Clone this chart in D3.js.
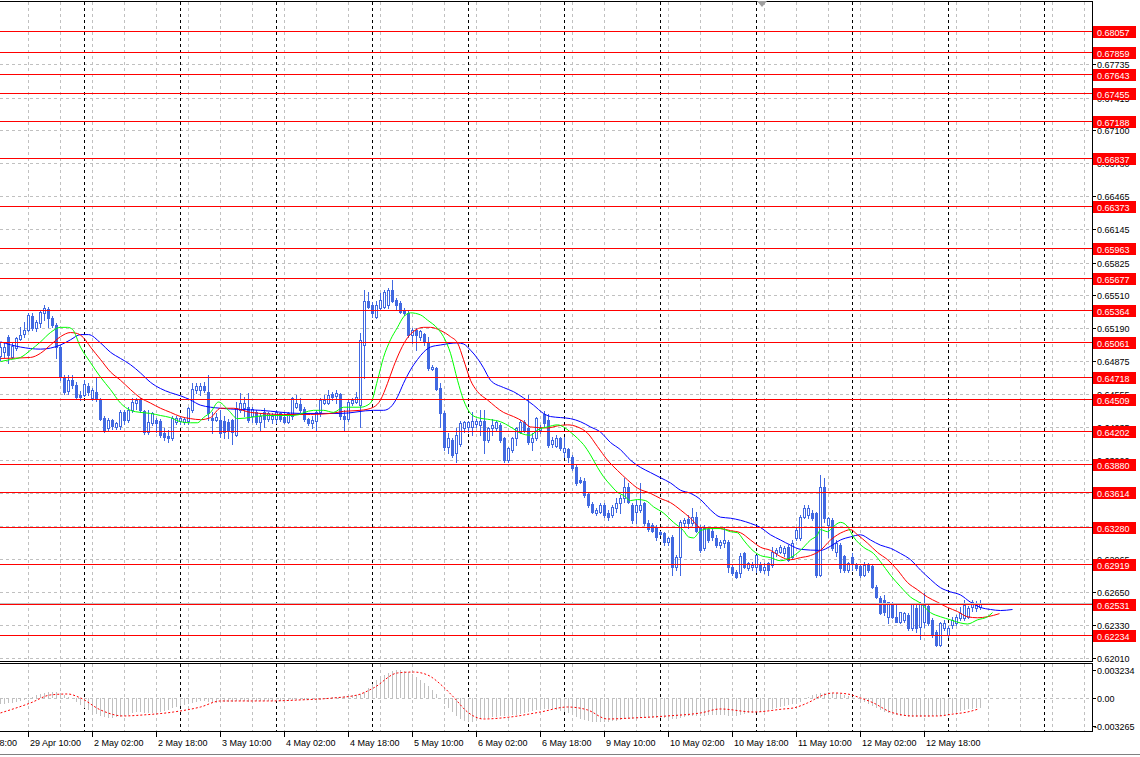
<!DOCTYPE html>
<html><head><meta charset="utf-8">
<script src="https://cdn.jsdelivr.net/npm/d3@7"></script>
<style>
html,body{margin:0;padding:0;background:#fff;overflow:hidden;}
svg{display:block;}
text{font-family:"Liberation Sans",Arial,sans-serif;font-size:9px;}
</style></head>
<body><svg id="c" width="1140" height="757"></svg>
<script>
// ---------------- DATA ----------------
const opens=[.6492,.6496,.6511,.6491,.6500,.6509,.6514,.6517,.6531,.6519,
.6524,.6534,.6538,.6529,.6522,.6501,.6472,.6459,.6469,.6464,
.6455,.6455,.6463,.6452,.6458,.6451,.6433,.6423,.6431,.6424,
.6425,.6438,.6431,.6440,.6447,.6450,.6439,.6419,.6428,.6431,
.6430,.6418,.6415,.6413,.6429,.6430,.6429,.6430,.6440,.6460,
.6460,.6463,.6458,.6433,.6431,.6431,.6430,.6429,.6431,.6416,
.6440,.6442,.6443,.6435,.6438,.6429,.6438,.6432,.6432,.6432,
.6437,.6434,.6429,.6435,.6443,.6446,.6441,.6432,.6428,.6430,
.6438,.6447,.6447,.6456,.6454,.6456,.6435,.6432,.6447,.6448,
.6445,.6503,.6545,.6542,.6530,.6539,.6540,.6542,.6556,.6546,
.6543,.6537,.6534,.6513,.6517,.6511,.6514,.6506,.6480,.6481,
.6462,.6437,.6405,.6411,.6399,.6408,.6423,.6424,.6424,.6427,
.6426,.6430,.6411,.6423,.6423,.6426,.6413,.6392,.6402,.6413,
.6419,.6429,.6423,.6409,.6413,.6421,.6436,.6431,.6408,.6406,
.6413,.6400,.6403,.6395,.6385,.6373,.6372,.6359,.6350,.6341,
.6342,.6349,.6341,.6339,.6346,.6351,.6355,.6366,.6349,.6342,
.6344,.6351,.6331,.6329,.6327,.6323,.6322,.6313,.6318,.6289,
.6299,.6331,.6335,.6331,.6337,.6327,.6307,.6326,.6324,.6317,
.6310,.6312,.6313,.6289,.6284,.6283,.6302,.6288,.6289,.6289,
.6291,.6286,.6293,.6291,.6302,.6303,.6302,.6308,.6299,.6317,
.6317,.6337,.6339,.6341,.6341,.6281,.6366,.6329,.6334,.6303,
.6310,.6300,.6286,.6299,.6291,.6290,.6281,.6291,.6290,.6270,
.6259,.6257,.6241,.6254,.6241,.6236,.6238,.6243,.6230,.6249,
.6231,.6236,.6251,.6238,.6226,.6214,.6230,.6223,.6233,.6235,
.6240,.6240,.6241,.6250,.6249,.6250];
const highs=[.6505,.6506,.6513,.6506,.6511,.6520,.6525,.6534,.6534,.6527,
.6537,.6542,.6540,.6531,.6524,.6503,.6474,.6474,.6474,.6467,
.6459,.6469,.6466,.6462,.6472,.6452,.6435,.6433,.6432,.6429,
.6440,.6440,.6443,.6452,.6452,.6452,.6440,.6440,.6438,.6433,
.6432,.6423,.6421,.6435,.6435,.6435,.6433,.6443,.6466,.6466,
.6466,.6467,.6474,.6438,.6437,.6440,.6435,.6432,.6432,.6448,
.6457,.6453,.6457,.6443,.6440,.6437,.6442,.6438,.6437,.6440,
.6438,.6437,.6438,.6453,.6455,.6452,.6443,.6433,.6435,.6440,
.6452,.6455,.6460,.6458,.6460,.6457,.6440,.6450,.6452,.6458,
.6515,.6556,.6554,.6544,.6545,.6553,.6556,.6558,.6566,.6548,
.6545,.6539,.6536,.6519,.6519,.6517,.6515,.6511,.6484,.6482,
.6466,.6439,.6418,.6413,.6423,.6430,.6430,.6430,.6438,.6432,
.6440,.6440,.6424,.6432,.6430,.6428,.6414,.6405,.6414,.6424,
.6431,.6431,.6455,.6418,.6434,.6426,.6439,.6436,.6414,.6416,
.6414,.6414,.6404,.6397,.6387,.6376,.6375,.6361,.6352,.6346,
.6351,.6351,.6344,.6349,.6355,.6358,.6375,.6370,.6351,.6354,
.6370,.6352,.6334,.6331,.6329,.6324,.6323,.6318,.6320,.6301,
.6334,.6336,.6339,.6346,.6342,.6329,.6329,.6327,.6327,.6320,
.6315,.6327,.6315,.6291,.6286,.6302,.6303,.6294,.6294,.6301,
.6294,.6293,.6294,.6308,.6307,.6310,.6309,.6310,.6315,.6327,
.6339,.6349,.6349,.6344,.6342,.6378,.6375,.6337,.6336,.6315,
.6312,.6301,.6294,.6302,.6293,.6291,.6294,.6293,.6291,.6272,
.6261,.6262,.6255,.6255,.6254,.6246,.6246,.6245,.6254,.6254,
.6255,.6264,.6252,.6240,.6228,.6236,.6238,.6232,.6241,.6243,
.6250,.6257,.6251,.6257,.6256,.6257];
const lows=[.6489,.6491,.6486,.6490,.6498,.6508,.6511,.6516,.6517,.6516,
.6520,.6527,.6520,.6520,.6490,.6469,.6456,.6456,.6462,.6451,
.6450,.6454,.6455,.6450,.6449,.6431,.6419,.6420,.6422,.6422,
.6422,.6427,.6429,.6438,.6441,.6438,.6417,.6417,.6426,.6419,
.6414,.6411,.6409,.6411,.6427,.6427,.6427,.6427,.6438,.6457,
.6455,.6458,.6431,.6418,.6430,.6414,.6413,.6413,.6408,.6415,
.6438,.6435,.6429,.6429,.6427,.6421,.6424,.6430,.6428,.6428,
.6430,.6428,.6428,.6432,.6442,.6438,.6430,.6426,.6423,.6421,
.6435,.6446,.6446,.6450,.6447,.6432,.6421,.6430,.6445,.6447,
.6424,.6471,.6539,.6530,.6529,.6537,.6539,.6539,.6544,.6537,
.6534,.6532,.6511,.6505,.6498,.6508,.6503,.6479,.6479,.6460,
.6424,.6402,.6399,.6395,.6390,.6406,.6419,.6419,.6416,.6424,
.6416,.6399,.6409,.6416,.6421,.6409,.6390,.6390,.6400,.6407,
.6418,.6419,.6408,.6402,.6411,.6418,.6424,.6405,.6405,.6405,
.6402,.6395,.6390,.6382,.6368,.6370,.6356,.6347,.6341,.6339,
.6341,.6337,.6334,.6337,.6342,.6341,.6352,.6351,.6331,.6331,
.6342,.6329,.6324,.6323,.6315,.6320,.6310,.6310,.6281,.6286,
.6281,.6328,.6327,.6329,.6323,.6303,.6305,.6313,.6315,.6308,
.6307,.6308,.6284,.6281,.6278,.6279,.6288,.6286,.6286,.6284,
.6284,.6283,.6281,.6289,.6300,.6302,.6300,.6295,.6298,.6315,
.6315,.6336,.6336,.6334,.6279,.6280,.6332,.6318,.6305,.6300,
.6284,.6284,.6284,.6286,.6286,.6279,.6280,.6284,.6269,.6259,
.6244,.6243,.6235,.6240,.6236,.6235,.6236,.6228,.6228,.6226,
.6220,.6231,.6233,.6221,.6213,.6213,.6228,.6221,.6230,.6233,
.6238,.6238,.6240,.6247,.6247,.6248];
const closes=[.6501,.6501,.6493,.6502,.6510,.6513,.6517,.6532,.6519,.6525,
.6535,.6539,.6529,.6522,.6501,.6472,.6458,.6469,.6464,.6453,
.6453,.6465,.6458,.6460,.6451,.6432,.6421,.6431,.6425,.6428,
.6438,.6431,.6440,.6448,.6450,.6440,.6419,.6429,.6437,.6428,
.6416,.6414,.6413,.6433,.6433,.6433,.6432,.6442,.6461,.6463,
.6463,.6460,.6437,.6431,.6434,.6418,.6419,.6420,.6419,.6442,
.6447,.6447,.6431,.6441,.6429,.6435,.6432,.6437,.6435,.6438,
.6432,.6429,.6437,.6452,.6447,.6440,.6432,.6428,.6431,.6438,
.6450,.6450,.6455,.6453,.6457,.6435,.6432,.6448,.6450,.6453,
.6508,.6545,.6540,.6534,.6542,.6546,.6554,.6556,.6545,.6542,
.6535,.6534,.6513,.6517,.6513,.6516,.6506,.6481,.6482,.6461,
.6437,.6405,.6413,.6397,.6416,.6428,.6429,.6429,.6430,.6430,
.6430,.6411,.6423,.6426,.6429,.6411,.6392,.6404,.6413,.6423,
.6429,.6421,.6409,.6413,.6433,.6423,.6428,.6407,.6411,.6413,
.6404,.6404,.6395,.6384,.6370,.6371,.6358,.6349,.6342,.6344,
.6349,.6339,.6337,.6347,.6351,.6355,.6366,.6352,.6334,.6349,
.6349,.6331,.6326,.6324,.6318,.6321,.6313,.6317,.6289,.6299,
.6332,.6334,.6331,.6337,.6324,.6305,.6327,.6315,.6318,.6310,
.6313,.6315,.6289,.6283,.6279,.6300,.6289,.6293,.6291,.6301,
.6286,.6289,.6286,.6303,.6305,.6308,.6307,.6296,.6312,.6325,
.6337,.6346,.6346,.6336,.6281,.6366,.6336,.6336,.6307,.6312,
.6288,.6286,.6293,.6293,.6288,.6281,.6291,.6286,.6270,.6260,
.6245,.6246,.6255,.6241,.6236,.6246,.6245,.6230,.6254,.6230,
.6254,.6252,.6235,.6223,.6214,.6235,.6235,.6230,.6238,.6241,
.6245,.6252,.6249,.6255,.6254,.6253];

// Alligator lines: [bar, price]
const lipsLine=[[0,.6487],[2.5,.6489],[5,.6491],[7.5,.6498],[10,.6506],[12.5,.6515],[15,.6520],[16.75,.6520],[18,.6518],[20,.6501],[22.5,.6486],[25,.6472],[27.5,.6460],[30,.6447],[32.5,.6440],[35,.6438],[37.5,.6437],[40,.6435],[42.5,.6433],[45,.6429],[47.5,.6428],[49.25,.6428],[50.75,.6433],[52.5,.6438],[54.5,.6448],[57,.6440],[59.25,.6432],[66.75,.6435],[73.25,.6435],[78.25,.6440],[80.75,.6440],[83.25,.6438],[85.75,.6443],[90,.6443],[92.5,.6447],[94.25,.6469],[95.75,.6491],[97.5,.6508],[99.25,.6520],[100.75,.6530],[102.5,.6534],[105,.6532],[106.75,.6527],[109.25,.6519],[110.75,.6511],[112.5,.6495],[114.25,.6469],[115.75,.6450],[117.5,.6437],[119.25,.6433],[122.5,.6431],[125,.6429],[127.5,.6424],[130,.6418],[132.5,.6416],[134.25,.6421],[136.75,.6424],[139.25,.6426],[140.75,.6424],[142.5,.6419],[144.25,.6413],[145.75,.6407],[147.5,.6397],[149.25,.6385],[150.75,.6376],[152.5,.6368],[154.25,.6361],[155.75,.6358],[157.5,.6353],[159.25,.6354],[161.25,.6353],[163.25,.6347],[165.75,.6341],[168.25,.6332],[170.75,.6324],[172,.6318],[173.25,.6317],[175,.6324],[177.5,.6326],[180,.6326],[182.5,.6323],[184.25,.6322],[185.75,.6315],[187.5,.6307],[190,.6300],[192.5,.6298],[195,.6295],[197.5,.6298],[200,.6305],[202.5,.6315],[204.25,.6320],[205,.6325],[206.75,.6323],[208.25,.6328],[210,.6332],[211.75,.6328],[213.25,.6318],[215.75,.6308],[218.25,.6302],[220,.6294],[222.5,.6281],[225,.6270],[227.5,.6260],[230,.6254],[232.5,.6245],[235,.6241],[237.5,.6238],[240,.6235],[241.75,.6234],[244.25,.6238],[246.75,.6241],[248,.6245]];
const teethLine=[[0,.6490],[7.5,.6491],[10,.6495],[12.5,.6503],[15,.6511],[17.5,.6515],[19.25,.6514],[20.75,.6510],[22.5,.6501],[25,.6489],[27.5,.6477],[30,.6469],[32.5,.6460],[35,.6452],[37.5,.6447],[40,.6442],[42.5,.6438],[45,.6434],[47.5,.6432],[50,.6431],[52.5,.6433],[55,.6442],[58.25,.6442],[62.5,.6438],[70.75,.6436],[77.5,.6436],[82.5,.6437],[85.75,.6439],[90,.6440],[93.25,.6443],[95,.6450],[96.75,.6466],[98.25,.6482],[100,.6498],[101.75,.6510],[103.25,.6516],[105.75,.6520],[107.5,.6520],[110,.6517],[112.5,.6511],[114.25,.6505],[115.75,.6489],[117.5,.6469],[119.25,.6458],[121.75,.6450],[125.75,.6438],[128.25,.6434],[130.75,.6429],[132.5,.6424],[136.75,.6423],[139.25,.6425],[141.75,.6426],[144.25,.6424],[146.75,.6418],[149.25,.6405],[151.75,.6392],[154.25,.6382],[156.75,.6373],[159.25,.6365],[162.5,.6360],[165,.6355],[167.5,.6351],[170,.6344],[172.5,.6336],[175,.6327],[180,.6326],[182.5,.6324],[185,.6322],[187.5,.6315],[190,.6308],[192.5,.6305],[195,.6299],[197.5,.6296],[200,.6298],[202.5,.6300],[205,.6305],[207.5,.6315],[209.25,.6320],[210.75,.6323],[212.5,.6325],[214.25,.6320],[216.75,.6312],[219.25,.6303],[221.75,.6296],[224.25,.6286],[226.75,.6274],[229.25,.6267],[231.75,.6260],[234.25,.6255],[236.75,.6250],[239.25,.6246],[241.75,.6241],[244.25,.6240],[246.75,.6241],[249.75,.6244]];
const jawLine=[[0,.6506],[5,.6501],[10,.6499],[15,.6503],[17.5,.6508],[20,.6513],[22,.6513],[25,.6505],[27.5,.6496],[30,.6490],[32.5,.6484],[35,.6476],[37.5,.6467],[40,.6461],[42.5,.6457],[45,.6454],[47.5,.6450],[50,.6445],[55,.6442],[65,.6440],[75,.6437],[85,.6437],[93.25,.6440],[95.75,.6440],[97.5,.6443],[99.25,.6453],[100.75,.6466],[102.5,.6479],[104.25,.6489],[105.75,.6496],[107.5,.6501],[110,.6503],[114.25,.6505],[115.75,.6504],[117.5,.6498],[119.25,.6490],[120.75,.6481],[122.5,.6469],[125.75,.6462],[128.25,.6458],[130.75,.6452],[133.25,.6445],[135.75,.6437],[137.5,.6434],[140,.6433],[142.5,.6432],[145,.6429],[147.5,.6424],[150,.6419],[152.5,.6409],[155,.6402],[157.5,.6392],[160,.6385],[162.5,.6380],[165,.6375],[167.5,.6370],[170,.6363],[172.5,.6360],[175,.6354],[177.5,.6344],[180,.6337],[182.5,.6336],[185,.6334],[187.5,.6331],[190,.6327],[192.5,.6320],[195,.6315],[197.5,.6310],[200,.6306],[205,.6305],[207.5,.6309],[210,.6315],[212.5,.6318],[215,.6320],[217.5,.6315],[220,.6310],[222.5,.6307],[225,.6302],[227.5,.6296],[230,.6286],[232.5,.6277],[235,.6269],[237.5,.6265],[240,.6262],[242.5,.6255],[245,.6250],[247.5,.6248],[250,.6247],[253,.6248]];

// MACD histogram (one value per bar) and signal line [bar, value]
const macdHist=[-.00071,-.00071,-.00059,-.00059,-.00048,-.00036,-.00024,-.00013,.00010,.00034,
.00045,.00057,.00068,.00068,.00068,.00057,.00034,.00010,-.00013,-.00048,
-.00082,-.00117,-.00140,-.00164,-.00187,-.00210,-.00222,-.00233,-.00233,-.00222,
-.00222,-.00210,-.00198,-.00175,-.00164,-.00164,-.00175,-.00175,-.00175,-.00175,
-.00164,-.00152,-.00140,-.00117,-.00106,-.00094,-.00082,-.00071,-.00059,-.00048,
-.00036,-.00036,-.00048,-.00048,-.00059,-.00059,-.00048,-.00048,-.00048,-.00036,
-.00036,-.00036,-.00048,-.00048,-.00036,-.00036,-.00036,-.00036,-.00036,-.00036,
-.00036,-.00036,-.00036,-.00024,-.00024,-.00024,-.00024,-.00024,-.00024,-.00024,
-.00024,-.00013,-.00001,.00010,.00010,.00010,.00022,.00022,.00034,.00034,
.00045,.00068,.00115,.00161,.00208,.00242,.00266,.00289,.00312,.00324,
.00324,.00312,.00300,.00277,.00242,.00208,.00173,.00138,.00092,.00045,
-.00013,-.00071,-.00117,-.00164,-.00210,-.00245,-.00268,-.00280,-.00280,-.00268,
-.00245,-.00233,-.00233,-.00222,-.00222,-.00210,-.00210,-.00210,-.00198,-.00198,
-.00187,-.00175,-.00164,-.00152,-.00140,-.00140,-.00129,-.00129,-.00129,-.00140,
-.00152,-.00164,-.00175,-.00198,-.00222,-.00245,-.00256,-.00268,-.00280,-.00280,
-.00280,-.00280,-.00280,-.00268,-.00268,-.00256,-.00245,-.00245,-.00245,-.00245,
-.00233,-.00233,-.00233,-.00233,-.00233,-.00233,-.00233,-.00245,-.00245,-.00245,
-.00233,-.00222,-.00210,-.00210,-.00210,-.00210,-.00210,-.00198,-.00198,-.00198,
-.00198,-.00198,-.00210,-.00210,-.00210,-.00198,-.00187,-.00175,-.00175,-.00164,
-.00164,-.00152,-.00140,-.00129,-.00117,-.00106,-.00094,-.00082,-.00071,-.00071,
-.00048,-.00013,.00010,.00034,.00045,.00057,.00057,.00068,.00057,.00057,
.00045,.00034,.00022,.00010,-.00001,-.00024,-.00048,-.00071,-.00094,-.00117,
-.00140,-.00164,-.00175,-.00187,-.00198,-.00210,-.00210,-.00222,-.00222,-.00222,
-.00222,-.00222,-.00222,-.00210,-.00210,-.00210,-.00198,-.00187,-.00175,-.00164,
-.00152,-.00140,-.00129,-.00129,-.00117,-.00117];
const macdSignal=[[0,-.00175],[7.5,-.00059],[12.5,.00034],[16.75,.00045],[20,-.00001],[25,-.00140],[30.75,-.00210],[35.75,-.00198],[43.25,-.00164],[50,-.00106],[55,-.00036],[66.75,-.00036],[75,-.00024],[83.25,-.00001],[89.25,.00034],[93.25,.00115],[99.25,.00289],[103.25,.00300],[106.75,.00266],[110.75,.00126],[113.25,.00010],[116.75,-.00164],[120.75,-.00245],[127.5,-.00222],[135,-.00164],[141.75,-.00106],[146.75,-.00140],[151.75,-.00245],[158.25,-.00233],[166.75,-.00210],[175,-.00175],[180,-.00129],[188.25,-.00164],[195.75,-.00129],[198.25,-.00117],[201.75,-.00059],[205.75,.00034],[208.25,.00057],[211.75,.00045],[215,-.00001],[218.25,-.00059],[222.5,-.00164],[228.25,-.00210],[234.25,-.00210],[238.25,-.00187],[241.75,-.00164],[244.5,-.00129]];

// Horizontal price levels (red lines with labels)
const levelPrices=[0.68057,0.67859,0.67643,0.67455,0.67188,0.66837,0.66373,0.65963,0.65677,0.65364,0.65061,0.64718,0.64509,0.64202,0.63880,0.63614,0.63280,0.62919,0.62531,0.62234];
// Price axis ticks
const priceTicks=[0.67735,0.67415,0.67100,0.66780,0.66465,0.66145,0.65825,0.65510,0.65190,0.64875,0.64555,0.64235,0.63920,0.63600,0.63285,0.62965,0.62650,0.62330,0.62010];
// MACD axis labels
const macdTicks=[0.003234,0,-0.003265];
const macdTickLabels=['0.003234','0.00','-0.003265'];
// Time axis
const xLabels=['28 Apr 18:00','29 Apr 10:00','2 May 02:00','2 May 18:00','3 May 10:00','4 May 02:00','4 May 18:00','5 May 10:00','6 May 02:00','6 May 18:00','9 May 10:00','10 May 02:00','10 May 18:00','11 May 10:00','12 May 02:00','12 May 18:00'];
const xLabelBars=[-9,7,23,39,55,71,87,103,119,135,151,167,183,199,215,231];
const daySeparatorBars=[21,45,69,93,117,141,165,189,213,237,261];

// ---------------- LAYOUT ----------------
const svg=d3.select('#c');
const plotR=1092, mainT=2, mainB=661, subT=664, subB=731;
const x=d3.scaleLinear().domain([0,273]).range([0,plotR]);
const y=d3.scaleLinear().domain([0.62234,0.68057]).range([635,31]);
const ym=d3.scaleLinear().domain([-0.003265,0.003234]).range([726,670]);
const X=i=>Math.round(x(i));
const Y=p=>Math.round(y(p));
const BLUE='#4169E1', GRID='#c0c0c0';

svg.append('rect').attr('width',1140).attr('height',757).attr('fill','#fff');
const defs=svg.append('defs');
defs.append('clipPath').attr('id','cm').append('rect').attr('x',0).attr('y',mainT).attr('width',plotR).attr('height',mainB-mainT);
defs.append('clipPath').attr('id','cs').append('rect').attr('x',0).attr('y',subT).attr('width',plotR).attr('height',subB-subT);

const gm=svg.append('g').attr('clip-path','url(#cm)');
const gs=svg.append('g').attr('clip-path','url(#cs)');

// grid main
gm.selectAll('.hg').data(priceTicks).join('line')
 .attr('x1',0).attr('x2',plotR).attr('y1',d=>Y(d)+0.5).attr('y2',d=>Y(d)+0.5)
 .attr('stroke',GRID).attr('stroke-dasharray','3,3');
const gridBars=d3.range(7,273,8);
[[gm,mainT,mainB],[gs,subT,subB]].forEach(([g,t,b])=>{
  g.selectAll('.vg').data(gridBars).join('line')
   .attr('x1',d=>X(d)+0.5).attr('x2',d=>X(d)+0.5).attr('y1',t).attr('y2',b)
   .attr('stroke',GRID).attr('stroke-dasharray','3,3');
  g.selectAll('.vs').data(daySeparatorBars).join('line')
   .attr('x1',d=>X(d)+0.5).attr('x2',d=>X(d)+0.5).attr('y1',t).attr('y2',b)
   .attr('stroke','#000').attr('stroke-dasharray','3,3');
});
// MACD zero level
gs.append('line').attr('x1',0).attr('x2',plotR).attr('y1',Math.round(ym(0))+0.5).attr('y2',Math.round(ym(0))+0.5)
 .attr('stroke',GRID).attr('stroke-dasharray','3,3');
// histogram
gs.selectAll('.hb').data(macdHist).join('line')
 .attr('x1',(d,i)=>X(i)+0.5).attr('x2',(d,i)=>X(i)+0.5)
 .attr('y1',Math.round(ym(0))).attr('y2',d=>Math.round(ym(d)))
 .attr('stroke',GRID).attr('stroke-width',1);
// signal
gs.append('path').attr('d',d3.line().x(d=>x(d[0])+0.5).y(d=>ym(d[1])).curve(d3.curveMonotoneX)(macdSignal))
 .attr('fill','none').attr('stroke','#ff0000').attr('stroke-width',1).attr('stroke-dasharray','2,2');

// candles
const candles=opens.map((o,i)=>({i,o,h:highs[i],l:lows[i],c:closes[i]}));
const cg=gm.append('g').attr('shape-rendering','crispEdges');
cg.selectAll('.wk').data(candles).join('line')
 .attr('x1',d=>X(d.i)+0.5).attr('x2',d=>X(d.i)+0.5).attr('y1',d=>Y(d.h)).attr('y2',d=>Y(d.l)+1)
 .attr('stroke',BLUE);
cg.selectAll('.bd').data(candles).join('rect')
 .attr('x',d=>d.c>=d.o?X(d.i)-0.5:X(d.i)-1)
 .attr('y',d=>d.c>=d.o?Y(d.c)+0.5:Y(d.o))
 .attr('width',d=>d.c>=d.o?2:3)
 .attr('height',d=>d.c>=d.o?Math.max(Y(d.o)-Y(d.c),0):Math.max(Y(d.c)-Y(d.o)+1,1))
 .attr('fill',d=>d.c>=d.o?'#fff':BLUE)
 .attr('stroke',d=>d.c>=d.o?BLUE:'none');

// alligator
const ln=d3.line().x(d=>x(d[0])+0.5).y(d=>y(d[1])).curve(d3.curveMonotoneX);
[[jawLine,'#0000ff'],[teethLine,'#ff0000'],[lipsLine,'#00ff00']].forEach(([dat,col])=>{
  gm.append('path').attr('d',ln(dat)).attr('fill','none').attr('stroke',col).attr('stroke-width',1);
});

// bid line
gm.append('line').attr('x1',0).attr('x2',plotR).attr('y1',Y(closes[closes.length-1])-0.5).attr('y2',Y(closes[closes.length-1])-0.5).attr('stroke','#c0c0c0');
// red levels
svg.selectAll('.lv').data(levelPrices).join('line')
 .attr('x1',0).attr('x2',plotR+2).attr('y1',d=>Y(d)+0.5).attr('y2',d=>Y(d)+0.5)
 .attr('stroke','#ff0000').attr('stroke-width',1);

// frames
const fr=svg.append('g').attr('stroke','#000').attr('shape-rendering','crispEdges');
fr.append('line').attr('x1',0).attr('x2',plotR).attr('y1',1.5).attr('y2',1.5);
fr.append('line').attr('x1',0).attr('x2',plotR).attr('y1',mainB+0.5).attr('y2',mainB+0.5);
fr.append('line').attr('x1',0).attr('x2',plotR).attr('y1',subT-0.5).attr('y2',subT-0.5);
fr.append('line').attr('x1',0).attr('x2',plotR).attr('y1',subB+0.5).attr('y2',subB+0.5);
fr.append('line').attr('x1',plotR+0.5).attr('x2',plotR+0.5).attr('y1',1).attr('y2',mainB+1);
fr.append('line').attr('x1',plotR+0.5).attr('x2',plotR+0.5).attr('y1',subT-1).attr('y2',subB+1);
svg.append('line').attr('x1',0).attr('x2',1140).attr('y1',754.5).attr('y2',754.5).attr('stroke','#808080');
// shift marker
svg.append('path').attr('d','M757,1 L767,1 L762,7 Z').attr('fill','#a0a0a0');

// price axis
const pa=svg.append('g');
pa.selectAll('line').data(priceTicks).join('line')
 .attr('x1',plotR).attr('x2',plotR+4).attr('y1',d=>Y(d)+0.5).attr('y2',d=>Y(d)+0.5).attr('stroke','#000');
pa.selectAll('text').data(priceTicks).join('text')
 .attr('x',1097).attr('y',d=>Y(d)+3.5).attr('fill','#000').text(d=>d3.format('.5f')(d));
// level labels
const lb=svg.append('g');
lb.selectAll('rect').data(levelPrices).join('rect')
 .attr('x',1093).attr('y',d=>Y(d)-5).attr('width',43).attr('height',12).attr('fill','#ff0000');
lb.selectAll('text').data(levelPrices).join('text')
 .attr('x',1097).attr('y',d=>Y(d)+4.5).attr('fill','#fff').text(d=>d3.format('.5f')(d));
// macd axis
const ma=svg.append('g');
ma.selectAll('line').data(macdTicks).join('line')
 .attr('x1',plotR).attr('x2',plotR+4).attr('y1',d=>Math.round(ym(d))+0.5).attr('y2',d=>Math.round(ym(d))+0.5).attr('stroke','#000');
ma.selectAll('text').data(macdTicks).join('text')
 .attr('x',(d,i)=>d<0?1094:1097).attr('y',d=>Math.round(ym(d))+3.5).attr('fill','#000').text((d,i)=>macdTickLabels[i]);
// time axis
const ta=svg.append('g');
ta.selectAll('line').data(xLabelBars).join('line')
 .attr('x1',d=>X(d)+0.5).attr('x2',d=>X(d)+0.5).attr('y1',subB+1).attr('y2',subB+6).attr('stroke','#000');
ta.selectAll('text').data(xLabels).join('text')
 .attr('x',(d,i)=>X(xLabelBars[i])+2).attr('y',745.5).attr('fill','#000').text(d=>d);
</script></body></html>
